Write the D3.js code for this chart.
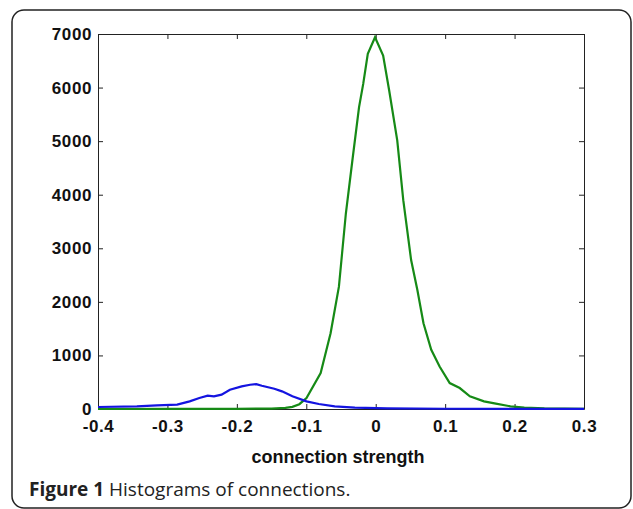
<!DOCTYPE html>
<meta charset="utf-8">
<style>
body { margin: 0; background: #fff; }
svg { display: block; }
.tick text { font-family: "Liberation Sans", Arial, sans-serif; font-weight: bold; font-size: 17px; letter-spacing: 0.6px; fill: #111; }
.axis path, .axis line { stroke: #222; }
</style>
<svg width="633" height="509"></svg>
<script src="https://d3js.org/d3.v7.min.js"></script>
<script>
// histogram bins
var greenX = [-0.4, -0.3, -0.2, -0.15, -0.13, -0.12, -0.11, -0.0997, -0.0793, -0.065, -0.053, -0.043, -0.033, -0.024, -0.018, -0.0114, -0.001,
  0.0107, 0.0194, 0.031, 0.0397, 0.051, 0.060, 0.0688, 0.080, 0.092, 0.1066, 0.121, 0.1356, 0.156, 0.173, 0.194, 0.214, 0.243, 0.3];
var greenY = [0, 1, 3, 8, 20, 40, 90, 205, 670, 1415, 2284, 3649, 4704, 5635, 6069, 6628, 6938,
  6597, 5945, 5014, 3897, 2780, 2222, 1601, 1105, 794, 484, 391, 236, 143, 99, 50, 25, 12, 5];

var blueX = [-0.4, -0.344, -0.315, -0.286, -0.268, -0.254, -0.242, -0.233, -0.222, -0.210, -0.193, -0.181, -0.172, -0.164, -0.146, -0.135,
  -0.120, -0.0997, -0.082, -0.059, -0.030, 0.0165, 0.1, 0.2, 0.3];
var blueY = [37, 50, 68, 81, 143, 205, 248, 236, 267, 360, 422, 453, 465, 434, 378, 329,
  236, 143, 93, 50, 25, 12, 5, 3, 2];

var xTicks = [-0.4, -0.3, -0.2, -0.1, 0, 0.1, 0.2, 0.3];
var yTicks = [0, 1000, 2000, 3000, 4000, 5000, 6000, 7000];

var svg = d3.select("svg");

// frame around the figure
svg.append("rect")
  .attr("x", 12).attr("y", 10)
  .attr("width", 619).attr("height", 498)
  .attr("rx", 12).attr("ry", 12)
  .attr("fill", "none")
  .attr("stroke", "#222")
  .attr("stroke-width", 1.5);

var plotL = 98, plotR = 584, plotT = 34, plotB = 409;

var x = d3.scaleLinear().domain([-0.4, 0.3]).range([plotL, plotR]);
var y = d3.scaleLinear().domain([0, 7000]).range([plotB, plotT]);

// matlab style labels, plain hyphen
var fmt = function(d) { return String(+d.toFixed(1)); };

// box axes, ticks inward
svg.append("g").attr("class", "axis")
  .attr("transform", "translate(0," + plotB + ")")
  .call(d3.axisBottom(x).tickValues(xTicks).tickSizeInner(-5).tickSizeOuter(0).tickPadding(11).tickFormat(fmt));
svg.append("g").attr("class", "axis")
  .attr("transform", "translate(0," + plotT + ")")
  .call(d3.axisTop(x).tickValues(xTicks).tickSizeInner(-5).tickSizeOuter(0).tickFormat(""));
svg.append("g").attr("class", "axis")
  .attr("transform", "translate(" + plotL + ",0)")
  .call(d3.axisLeft(y).tickValues(yTicks).tickSizeInner(-5).tickSizeOuter(0).tickPadding(6).tickFormat(d3.format("d")));
svg.append("g").attr("class", "axis")
  .attr("transform", "translate(" + plotR + ",0)")
  .call(d3.axisRight(y).tickValues(yTicks).tickSizeInner(-5).tickSizeOuter(0).tickFormat(""));

var line = d3.line()
  .x(function(d) { return x(d[0]); })
  .y(function(d) { return y(d[1]); });

svg.append("path")
  .datum(greenX.map(function(v, i) { return [v, greenY[i]]; }))
  .attr("d", line)
  .attr("fill", "none")
  .attr("stroke", "#168a16")
  .attr("stroke-width", 2.2);

svg.append("path")
  .datum(blueX.map(function(v, i) { return [v, blueY[i]]; }))
  .attr("d", line)
  .attr("fill", "none")
  .attr("stroke", "#1414e0")
  .attr("stroke-width", 2.2);

// x label
svg.append("text")
  .attr("x", 338).attr("y", 463)
  .attr("text-anchor", "middle")
  .style("font-family", "'Liberation Sans', Arial, sans-serif")
  .style("font-weight", "bold")
  .style("font-size", "18px")
  .attr("fill", "#111")
  .text("connection strength");

// caption
var cap = svg.append("text")
  .attr("x", 29).attr("y", 496)
  .style("font-family", "'Open Sans', sans-serif")
  .style("font-size", "19px")
  .attr("fill", "#222");
cap.append("tspan").style("font-weight", "bold").text("Figure 1");
cap.append("tspan").text(" Histograms of connections.");
</script>
